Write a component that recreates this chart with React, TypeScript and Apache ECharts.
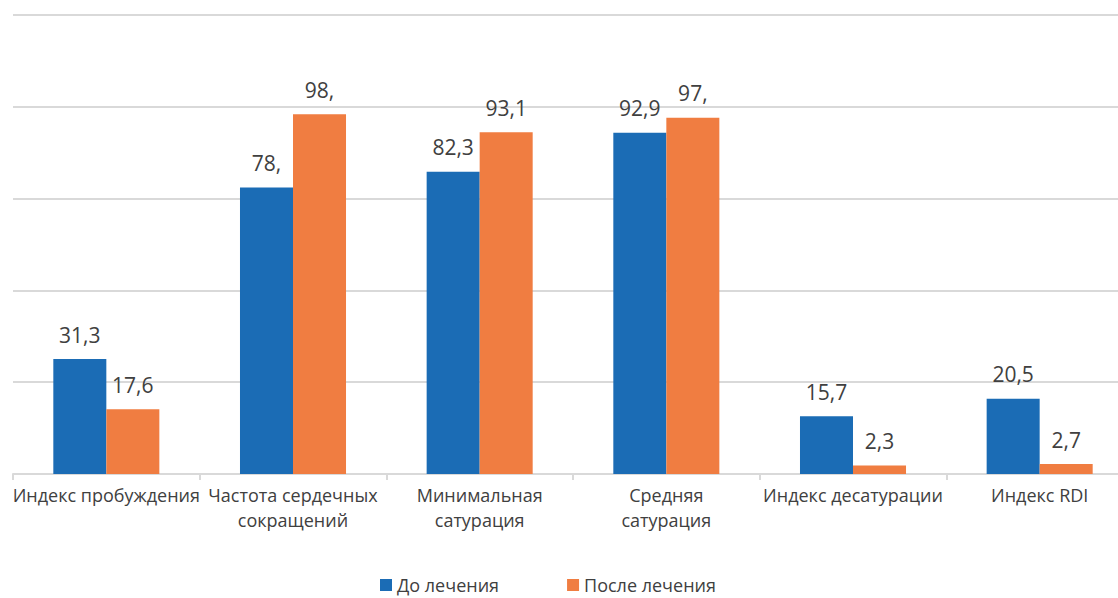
import React, { useEffect, useRef } from "react";
import * as echarts from "echarts";

const categories = [
  "Индекс пробуждения",
  "Частота сердечных\nсокращений",
  "Минимальная\nсатурация",
  "Средняя\nсатурация",
  "Индекс десатурации",
  "Индекс RDI",
];
const seriesNames = ["До лечения", "После лечения"];
const before = [31.3, 78, 82.3, 92.9, 15.7, 20.5];
const after = [17.6, 98, 93.1, 97, 2.3, 2.7];
const beforeLabels = ["31,3", "78,", "82,3", "92,9", "15,7", "20,5"];
const afterLabels = ["17,6", "98,", "93,1", "97,", "2,3", "2,7"];

const FONT = "'Open Sans', 'Noto Sans', sans-serif";
const TEXT = "#404040";
const GRID = "#d9d9d9";

export default function App() {
  const ref = useRef<HTMLDivElement>(null);
  useEffect(() => {
    if (!ref.current) return;
    const chart = echarts.init(ref.current, undefined, { renderer: "svg" });
    const mk = (name: string, data: number[], labels: string[], color: string) => ({
      name,
      type: "bar",
      data,
      barWidth: "28.4%",
      barGap: "0%",
      itemStyle: { color },
      label: {
        show: true,
        position: "top",
        distance: 14,
        fontFamily: FONT,
        fontSize: 21,
        color: TEXT,
        formatter: (p: any) => labels[p.dataIndex],
      },
    });
    chart.setOption({
      animation: false,
      textStyle: { fontFamily: FONT },
      grid: {
        left: 13,
        top: 15,
        width: 1120,
        height: 459,
        containLabel: false,
        outerBoundsMode: "none",
      },
      legend: {
        data: seriesNames,
        top: 571,
        left: 375,
        icon: "rect",
        itemWidth: 12,
        itemHeight: 12,
        itemGap: 68,
        textStyle: { fontFamily: FONT, fontSize: 18, lineHeight: 18, color: TEXT },
      },
      xAxis: {
        type: "category",
        data: categories,
        axisLine: { lineStyle: { color: GRID, width: 2 } },
        axisTick: { show: true, length: 6, lineStyle: { color: GRID, width: 2 } },
        axisLabel: {
          interval: 0,
          margin: 8,
          fontFamily: FONT,
          fontSize: 18,
          lineHeight: 25,
          color: TEXT,
        },
      },
      yAxis: {
        type: "value",
        min: 0,
        max: 125,
        interval: 25,
        axisLabel: { show: false },
        axisLine: { show: false },
        axisTick: { show: false },
        splitLine: { lineStyle: { color: GRID, width: 2 } },
      },
      series: [
        mk(seriesNames[0], before, beforeLabels, "#1B6CB5"),
        mk(seriesNames[1], after, afterLabels, "#F07D41"),
      ],
    });
    return () => chart.dispose();
  }, []);
  return (
    <div
      ref={ref}
      style={{ position: "fixed", left: 0, top: 0, width: 1118, height: 598, background: "#fff" }}
    />
  );
}
